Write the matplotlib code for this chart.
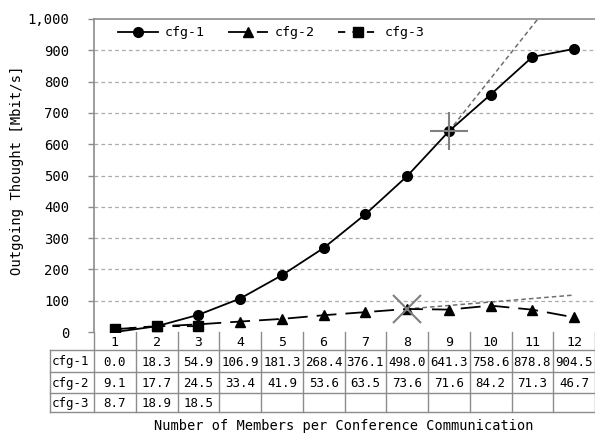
import matplotlib
matplotlib.use("Agg")
import matplotlib.pyplot as plt
import numpy as np

categories = [1, 2, 3, 4, 5, 6, 7, 8, 9, 10, 11, 12]
cfg1 = [0.0, 18.3, 54.9, 106.9, 181.3, 268.4, 376.1, 498.0, 641.3, 758.6, 878.8, 904.5]
cfg2 = [9.1, 17.7, 24.5, 33.4, 41.9, 53.6, 63.5, 73.6, 71.6, 84.2, 71.3, 46.7]
cfg3 = [8.7, 18.9, 18.5]
series_names = ["cfg-1", "cfg-2", "cfg-3"]
yticks = [0, 100, 200, 300, 400, 500, 600, 700, 800, 900, 1000]
# extrapolation (trend) lines
trend1_x = [9, 11.13]
trend1_y = [641.3, 1000]
trend2_x = [8, 12]
trend2_y = [73.6, 118]
xlabel = "Number of Members per Conference Communication"
ylabel = "Outgoing Thought [Mbit/s]"

FONT = "DejaVu Sans Mono"
plt.rcParams['font.family'] = [FONT]

W, H = 595, 437
fig = plt.figure(figsize=(W / 100, H / 100), dpi=100)

px_left, px_right, px_top, px_bottom = 94, 595, 19, 332
ax = fig.add_axes([px_left / W, 1 - px_bottom / H, (px_right - px_left) / W, (px_bottom - px_top) / H])
ax.set_xlim(0.5, 12.5)
ax.set_ylim(0, 1000)

gray = "#8c8c8c"
for y in yticks[1:-1]:
    ax.axhline(y, color="#ababab", lw=0.9, ls=(0, (3, 2.5)), zorder=1)
ax.axhline(1000, color=gray, lw=1.2, zorder=1, clip_on=False)

ax.plot(categories, cfg1, color="black", lw=1.3, marker="o", ms=7, label=series_names[0], zorder=4)
ax.plot(categories, cfg2, color="black", lw=1.3, ls=(0, (11, 5)), marker="^", ms=7, label=series_names[1], zorder=4)
ax.plot(categories[:len(cfg3)], cfg3, color="black", lw=1.3, ls=(0, (4, 4)), marker="s", ms=7, label=series_names[2], zorder=4)

ax.plot(trend1_x, trend1_y, color="#6e6e6e", lw=1.1, ls=(0, (3, 2)), zorder=3, clip_on=True)
ax.plot(trend2_x, trend2_y, color="#6e6e6e", lw=1.1, ls=(0, (3, 2)), zorder=3, clip_on=True)
ax.plot([trend1_x[0]], [trend1_y[0]], marker="+", ms=27, mew=1.5, color="#808080", zorder=5)
ax.plot([trend2_x[0]], [trend2_y[0]], marker="x", ms=20, mew=1.5, color="#808080", zorder=5)

for s in ["top", "right", "bottom"]:
    ax.spines[s].set_visible(False)
ax.spines["left"].set_color(gray)
ax.spines["left"].set_linewidth(1.2)
ax.set_xticks([])
ax.set_yticks(yticks)
ax.set_yticklabels([f"{v:,}" for v in yticks], fontsize=10, family=FONT)
ax.tick_params(axis="y", length=4, width=1, color=gray, pad=14)

fig.text(17 / W, 1 - 170 / H, ylabel, rotation=90, ha="center", va="center", fontsize=10)

leg = ax.legend(loc="upper left", ncol=3, frameon=False, fontsize=9.5, handlelength=3.0,
                columnspacing=1.8, handletextpad=0.5, bbox_to_anchor=(0.025, 1.015))

# data table
tb_top, tb_bot, tb_left = 332, 412, 50
cw = (px_right - px_left) / 12
tax = fig.add_axes([tb_left / W, 1 - tb_bot / H, (px_right - tb_left) / W, (tb_bot - tb_top) / H])
x0 = 0.5 - (px_left - tb_left) / cw
tax.set_xlim(x0, 12.5)
tax.set_ylim(tb_bot, tb_top)
tax.axis("off")
rows = [tb_top, 350, 372, 393, tb_bot]
lc = "#8c8c8c"
TFS = 9
for i in range(13):
    xv = 0.5 + i
    tax.plot([xv, xv], [rows[0], rows[-1]], color=lc, lw=1.0, clip_on=False)
tax.plot([x0, x0], [rows[1], rows[-1]], color=lc, lw=1.0, clip_on=False)
for r in rows[1:]:
    tax.plot([x0, 12.5], [r, r], color=lc, lw=1.0, clip_on=False)
for c in categories:
    tax.text(c, (rows[0] + rows[1]) / 2 + 1, str(c), ha="center", va="center", fontsize=9.5)
for ri, (name, vals) in enumerate(zip(series_names, [cfg1, cfg2, cfg3])):
    yc = (rows[ri + 1] + rows[ri + 2]) / 2 + 1
    tax.text(x0 + 0.05, yc, name, ha="left", va="center", fontsize=TFS)
    for c, v in zip(categories, vals):
        tax.text(c, yc, f"{v:.1f}", ha="center", va="center", fontsize=TFS)

fig.text(344 / W, 1 - 426 / H, xlabel, ha="center", va="center", fontsize=9.8)

fig.savefig("out.png", dpi=100)
